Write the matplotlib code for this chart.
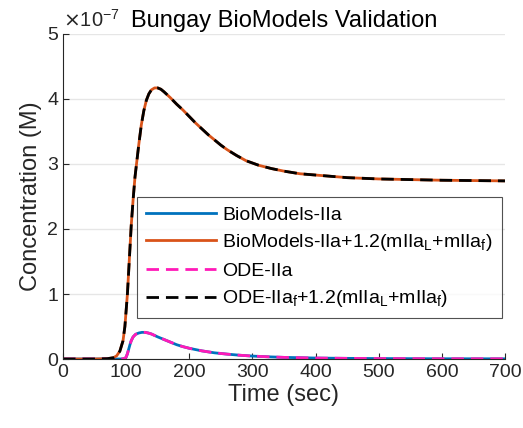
import matplotlib
matplotlib.use("Agg")
import matplotlib.pyplot as plt

plt.rcParams['font.family'] = ['Liberation Sans', 'DejaVu Sans']

# Time (sec) and concentration (x1e-7 M)
t_total = [0, 50, 70, 80, 85, 90, 95, 98, 100, 102, 104, 106, 108, 111, 114, 117,
           120, 124, 128, 132, 136, 140, 145, 150, 155, 160, 170, 180, 190, 200,
           210, 220, 230, 240, 250, 260, 275, 290, 310, 330, 350, 375, 400, 450,
           500, 550, 600, 650, 700]
biomodels_total = [0, 0, 0.005, 0.02, 0.05, 0.12, 0.28, 0.5, 0.75, 1.0, 1.35, 1.7,
                   2.05, 2.45, 2.8, 3.05, 3.3, 3.6, 3.82, 3.98, 4.08, 4.14, 4.17,
                   4.17, 4.15, 4.11, 4.02, 3.92, 3.83, 3.73, 3.63, 3.54, 3.45, 3.37,
                   3.29, 3.22, 3.13, 3.05, 2.98, 2.93, 2.89, 2.85, 2.83, 2.79, 2.77,
                   2.76, 2.75, 2.745, 2.74]
ode_total = list(biomodels_total)

t_iia = [0, 90, 95, 98, 100, 102, 104, 106, 108, 111, 115, 120, 125, 130, 135, 140,
         150, 160, 170, 180, 190, 200, 220, 240, 260, 280, 300, 325, 350, 400, 450,
         500, 600, 700]
biomodels_iia = [0, 0, 0.003, 0.01, 0.03, 0.08, 0.15, 0.22, 0.28, 0.34, 0.38, 0.40,
                 0.41, 0.41, 0.40, 0.385, 0.34, 0.30, 0.26, 0.22, 0.19, 0.165, 0.125,
                 0.095, 0.075, 0.058, 0.045, 0.034, 0.025, 0.015, 0.01, 0.007, 0.004,
                 0.003]
ode_iia = list(biomodels_iia)

labels = ['BioModels-IIa',
          'BioModels-IIa+1.2(mIIa$_\\mathregular{L}$+mIIa$_\\mathregular{f}$)',
          'ODE-IIa',
          'ODE-IIa$_\\mathregular{f}$+1.2(mIIa$_\\mathregular{L}$+mIIa$_\\mathregular{f}$)']

fig = plt.figure(figsize=(5.23, 4.28), dpi=100)
ax = fig.add_axes([0.1205, 0.1612, 0.845, 0.7594])

ax.plot(t_iia, biomodels_iia, color='#0072BD', lw=2.0, label=labels[0])
ax.plot(t_total, biomodels_total, color='#D95319', lw=2.0, label=labels[1])
ax.plot(t_iia, ode_iia, color='#FF1AB8', lw=2.0, ls='--', dashes=(4.5, 2.5), label=labels[2])
ax.plot(t_total, ode_total, color='black', lw=2.0, ls='--', dashes=(4.5, 2.5), label=labels[3])

ax.set_xlim(0, 700)
ax.set_ylim(0, 5)
ax.set_xticks(range(0, 701, 100))
ax.set_yticks(range(0, 6))
ax.tick_params(direction='in', labelsize=14, length=4, color='#262626', labelcolor='#262626')
for s in ['top', 'right']:
    ax.spines[s].set_visible(False)
for s in ['left', 'bottom']:
    ax.spines[s].set_color('#262626')
ax.yaxis.grid(True, color='#E6E6E6', lw=1)
ax.set_axisbelow(True)

ax.set_xlabel('Time (sec)', fontsize=17, color='#262626', labelpad=2)
ax.set_ylabel('Concentration (M)', fontsize=17, color='#262626', labelpad=4)
ax.set_title('Bungay BioModels Validation', fontsize=17, color='black', pad=5)
ax.text(0.0, 1.01, '$\\times$10$^{\\mathregular{-7}}$', transform=ax.transAxes,
        fontsize=14.5, color='#262626', va='bottom', ha='left')

leg = ax.legend(loc='upper left', bbox_to_anchor=(0.167, 0.498), borderaxespad=0,
                fontsize=14, frameon=True, fancybox=False, edgecolor='#262626',
                handlelength=3.6, borderpad=0.45, labelspacing=0.45, handletextpad=0.35)
leg.get_frame().set_linewidth(0.8)

fig.savefig('out.png', dpi=100)
